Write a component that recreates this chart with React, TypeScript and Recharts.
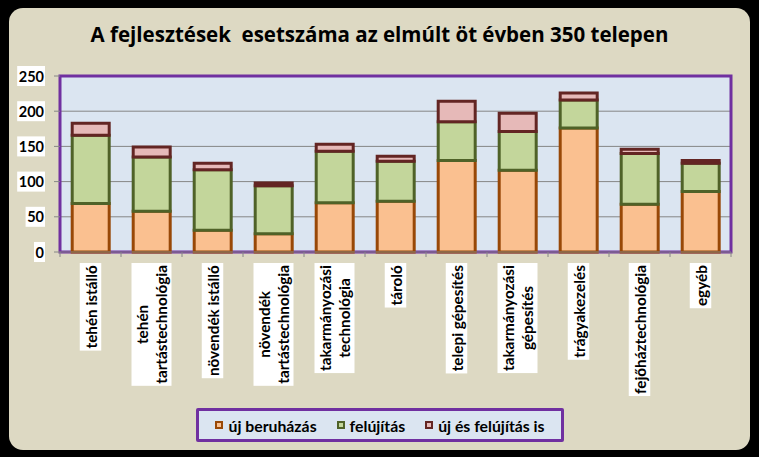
import React, { useLayoutEffect, useRef, useState } from 'react';
import { BarChart, Bar, XAxis, YAxis, CartesianGrid, ReferenceArea } from 'recharts';

const categories = [
  'tehén istálló',
  'tehén\ntartástechnológia',
  'növendék istálló',
  'növendék\ntartástechnológia',
  'takarmányozási\ntechnológia',
  'tároló',
  'telepi gépesítés',
  'takarmányozási\ngépesítés',
  'trágyakezelés',
  'fejőháztechnológia',
  'egyéb',
];
const ujBeruhazas = [69, 58, 31, 26, 70, 72, 130, 116, 176, 68, 86];
const felujitas = [97, 77, 86, 68, 73, 57, 55, 55, 40, 72, 40];
const mindketto = [17, 14, 9, 4, 10, 7, 29, 26, 10, 6, 4];
const yTicks = [0, 50, 100, 150, 200, 250];

const series = [
  { key: 'uj', name: 'új beruházás', fill: '#FAC090', stroke: '#984807' },
  { key: 'fel', name: 'felújítás', fill: '#C3D69B', stroke: '#4F6228' },
  { key: 'mind', name: 'új és felújítás is', fill: '#E6B9B8', stroke: '#632523' },
];

const data = categories.map((name, i) => ({
  name,
  uj: ujBeruhazas[i],
  fel: felujitas[i],
  mind: mindketto[i],
}));

const FONT = 'Lato, "Open Sans", sans-serif';
const TITLE_FONT = '"Open Sans", Lato, sans-serif';
const CHART_W = 759;
const CHART_H = 457;
const MARGIN = { top: 76, right: 28, bottom: 55, left: 0 };
const Y_W = 60;
const PLOT_W = CHART_W - MARGIN.left - MARGIN.right - Y_W;
const HALF_BAND = PLOT_W / categories.length / 2;

const YTick = ({ x, y, payload }: any) => {
  const ref = useRef<SVGTextElement>(null);
  const [w, setW] = useState(0);
  useLayoutEffect(() => {
    if (ref.current) setW(ref.current.getBBox().width);
  }, [payload.value]);
  return (
    <g>
      <rect x={x - w - 1} y={y - 10} width={w + 2} height={20} fill='#fff' />
      <text
        ref={ref}
        x={x}
        y={y}
        textAnchor='end'
        dominantBaseline='central'
        fontFamily={FONT}
        fontWeight='bold'
        fontSize={14.5}
        fill='#000'
      >
        {payload.value}
      </text>
    </g>
  );
};

const XTick = ({ x, y, payload, index }: any) => {
  const lines = String(payload.value).split('\n');
  const ref = useRef<SVGGElement>(null);
  const [len, setLen] = useState(0);
  useLayoutEffect(() => {
    if (ref.current) setLen(ref.current.getBBox().width);
  }, [payload.value]);
  const lineGap = 18.5;
  const boxW = lines.length * lineGap + 3;
  const boxH = len + 4;
  const last = index === categories.length - 1;
  return (
    <g>
      <line x1={x - HALF_BAND} x2={x - HALF_BAND} y1={y} y2={y + 5} stroke='#868686' />
      {last && <line x1={x + HALF_BAND} x2={x + HALF_BAND} y1={y} y2={y + 5} stroke='#868686' />}
      <g transform={`translate(${x},${y + 11}) rotate(-90)`}>
        <rect x={-boxH} y={-boxW / 2} width={boxH} height={boxW} fill='#fff' />
        <g ref={ref}>
          {lines.map((line, i) => (
            <text
              key={i}
              x={-boxH / 2}
              y={(i - (lines.length - 1) / 2) * lineGap}
              textAnchor='middle'
              dominantBaseline='central'
              fontFamily={FONT}
              fontWeight='bold'
              fontSize={15.3}
              fill='#000'
            >
              {line}
            </text>
          ))}
        </g>
      </g>
    </g>
  );
};

const App = () => {
  return (
    <div style={{ position: 'absolute', left: 0, top: 0, width: CHART_W, height: CHART_H, background: '#000' }}>
      <div
        style={{
          position: 'absolute',
          left: 9,
          top: 8,
          width: 741,
          height: 442,
          background: '#DDD9C3',
          borderRadius: 14,
        }}
      />
      <div
        style={{
          position: 'absolute',
          left: 0,
          top: 20,
          width: CHART_W,
          textAlign: 'center',
          fontFamily: TITLE_FONT,
          fontWeight: 'bold',
          fontSize: 20.5,
          whiteSpace: 'pre',
          color: '#000',
        }}
      >
        {'A fejlesztések  esetszáma az elmúlt öt évben 350 telepen'}
      </div>
      <div style={{ position: 'absolute', left: 0, top: 0 }}>
        <BarChart width={CHART_W} height={CHART_H} data={data} margin={MARGIN} barCategoryGap='20%'>
          <CartesianGrid vertical={false} stroke='#868686' fill='#DBE5F1' />
          <XAxis
            dataKey='name'
            interval={0}
            height={150}
            tickLine={false}
            axisLine={{ stroke: '#868686' }}
            tickSize={0}
            tickMargin={0}
            tick={<XTick />}
          />
          <YAxis
            width={Y_W}
            domain={[0, 250]}
            ticks={yTicks}
            axisLine={false}
            tickLine={{ stroke: '#868686' }}
            tickSize={6}
            tickMargin={10}
            tick={<YTick />}
          />
          {series.map((s) => (
            <Bar
              key={s.key}
              dataKey={s.key}
              name={s.name}
              stackId='a'
              fill={s.fill}
              stroke={s.stroke}
              strokeWidth={3}
              isAnimationActive={false}
            />
          ))}
          <ReferenceArea y1={0} y2={250} fill='none' stroke='#7030A0' strokeWidth={3} ifOverflow='visible' />
        </BarChart>
      </div>
      <div
        style={{
          position: 'absolute',
          left: 196,
          top: 408,
          width: 368,
          height: 34,
          boxSizing: 'border-box',
          border: '3px solid #7030A0',
          borderRadius: 2,
          background: '#DBE5F1',
          display: 'flex',
          alignItems: 'center',
          justifyContent: 'center',
          gap: 20,
          fontFamily: FONT,
          fontWeight: 'bold',
          fontSize: 15.8,
          color: '#000',
        }}
      >
        {series.map((s) => (
          <div key={s.key} style={{ display: 'flex', alignItems: 'center', gap: 5 }}>
            <span
              style={{
                display: 'inline-block',
                width: 8,
                height: 8,
                boxSizing: 'border-box',
                border: `2px solid ${s.stroke}`,
                background: s.fill,
              }}
            />
            <span>{s.name}</span>
          </div>
        ))}
      </div>
    </div>
  );
};

export default App;
